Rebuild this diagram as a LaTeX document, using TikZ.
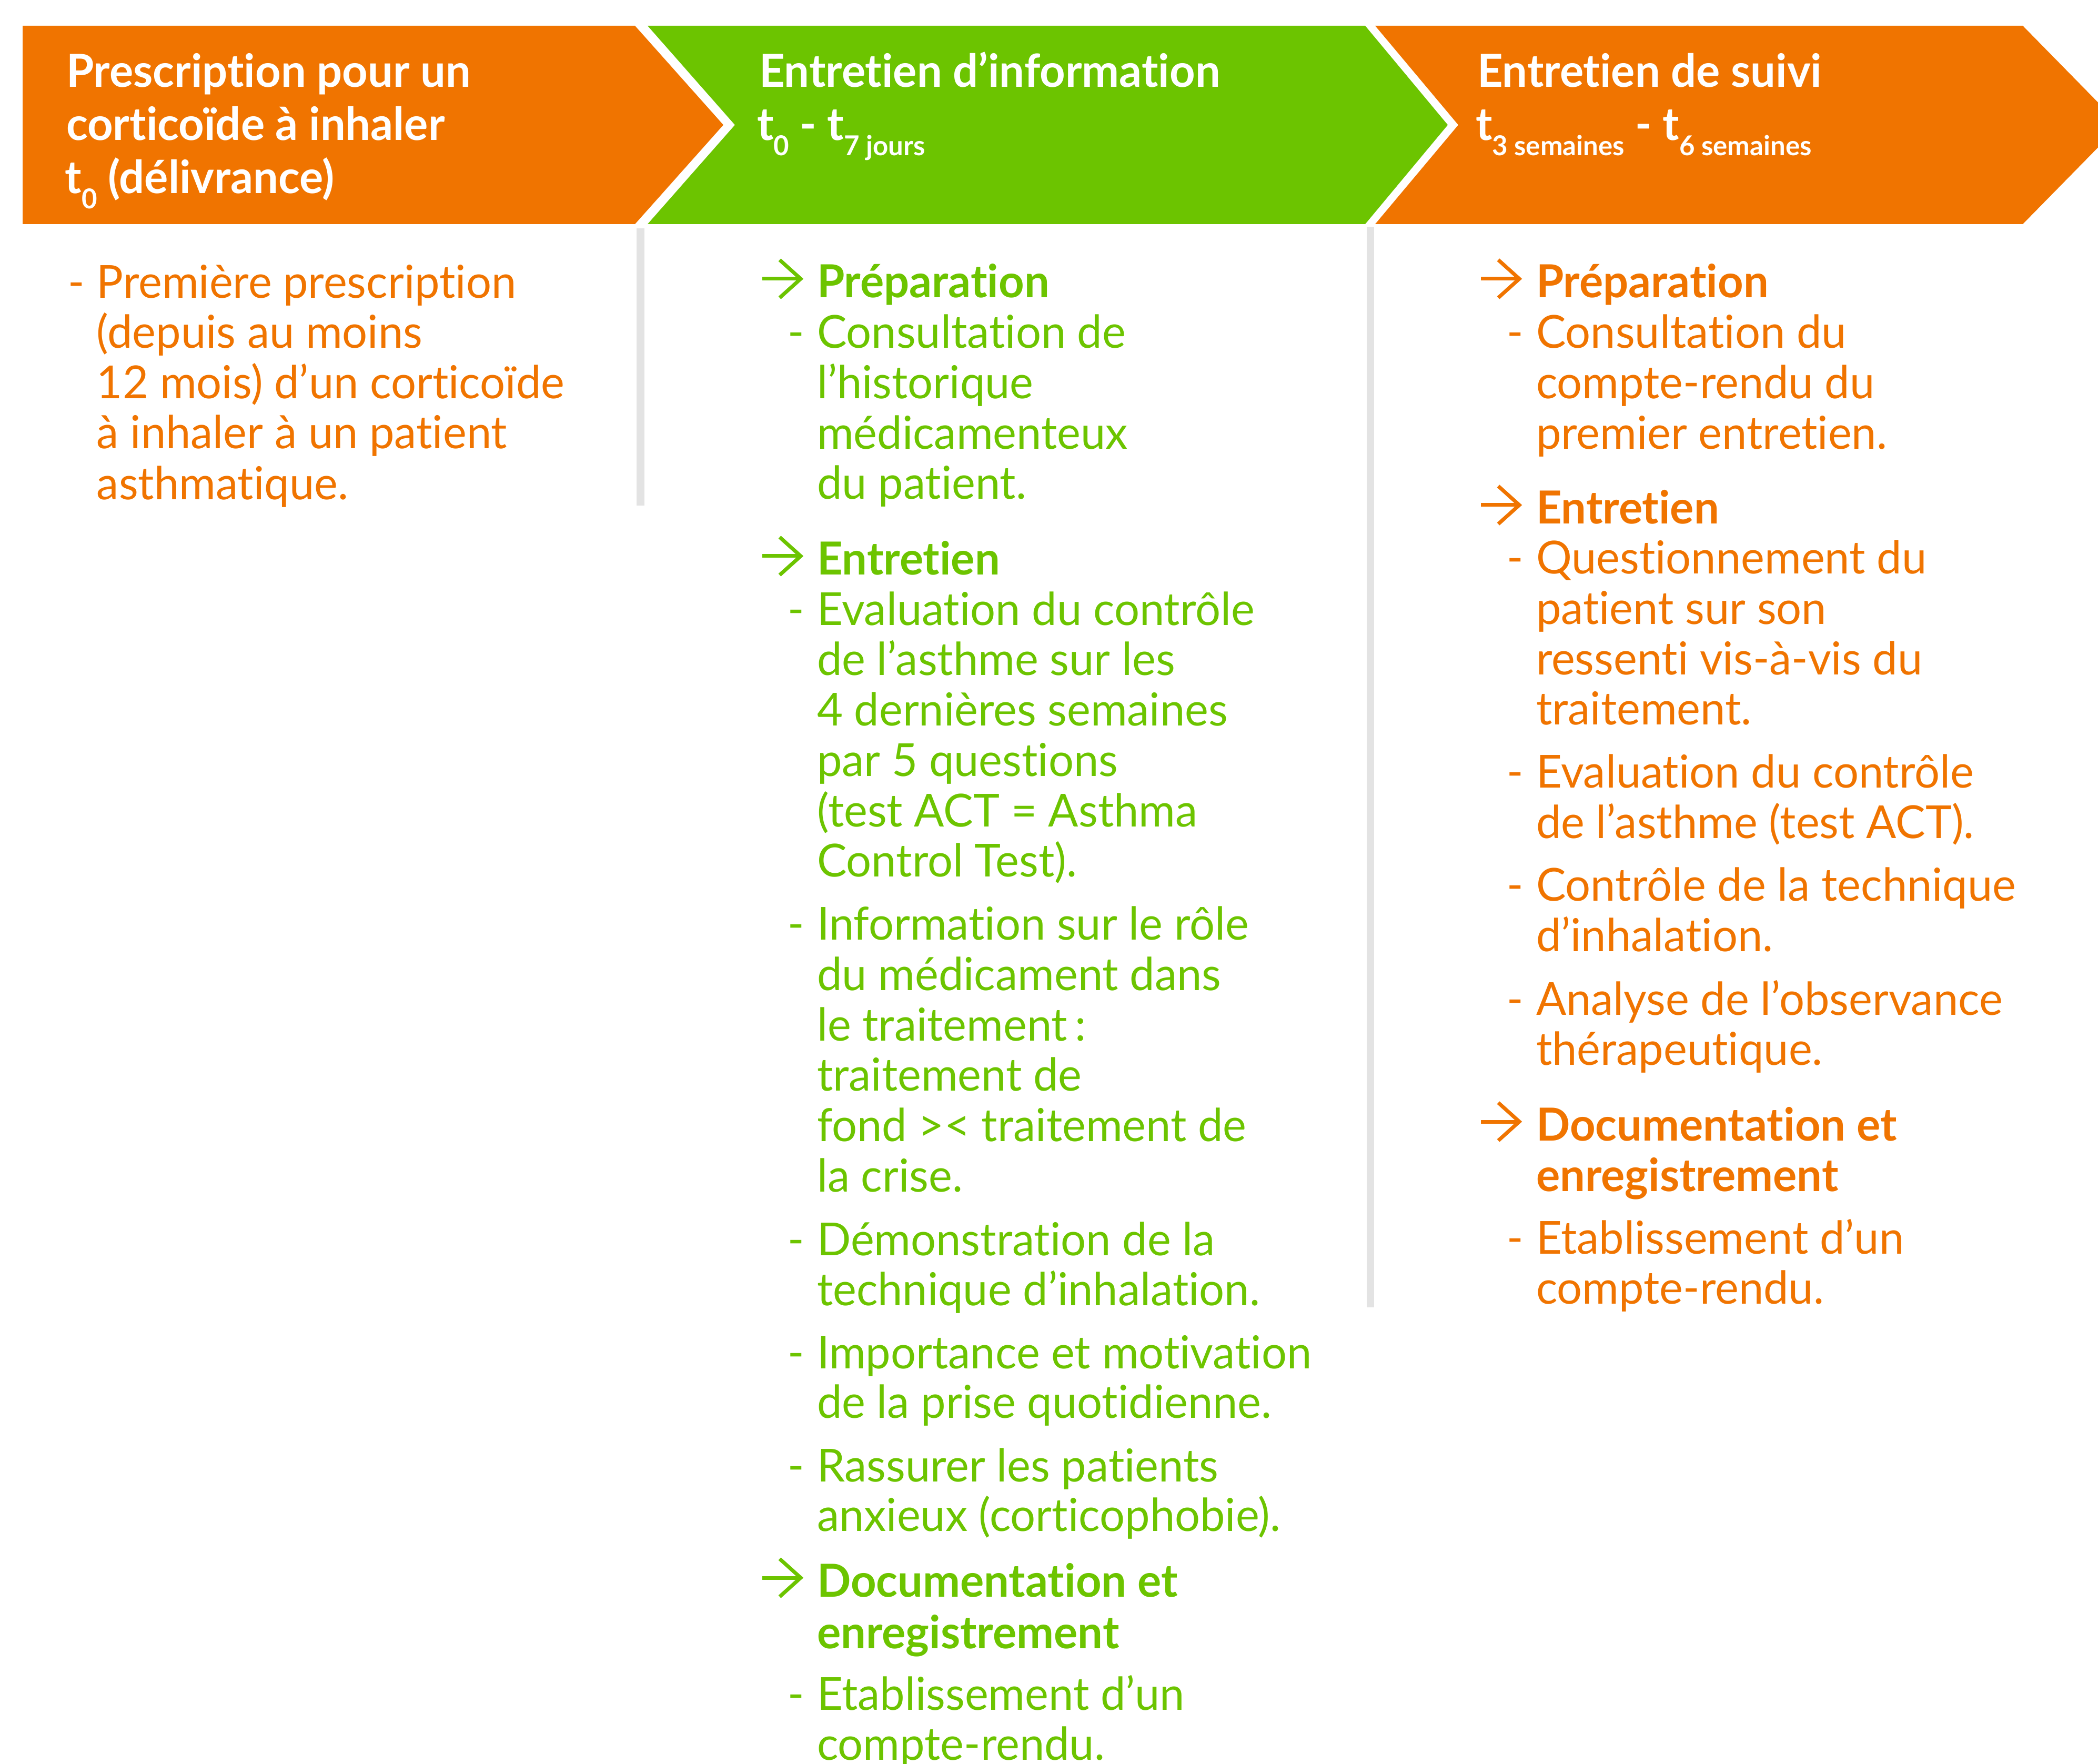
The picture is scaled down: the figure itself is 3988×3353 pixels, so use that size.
\documentclass[tikz,border=0pt]{standalone}
\usepackage{fontspec}
\setmainfont{Lato}[Ligatures=NoCommon, FakeStretch=0.98]
\definecolor{corange}{HTML}{F07400}
\definecolor{cgreen}{HTML}{6CC400}
\definecolor{cgray}{HTML}{E3E3E3}
\newcommand\bodyfont{\fontsize{17.3pt}{19pt}\selectfont}
\newcommand\subfont{\fontsize{10.4pt}{11pt}\selectfont}
\newcommand\tsub[1]{\raisebox{-5.8pt}{\subfont #1}}
\newcommand\harrow[4]{%
  \coordinate (#1-s) at (#2,#3-36);
  \coordinate (#1-t) at (#2+73,#3-36);
  \draw[arrowline,#4] (#1-s) -- (#1-t);
  \draw[arrowline,#4] (#2+33,#3-72) -- (#1-t) -- (#2+33,#3);}
\tikzset{
  txt/.style={anchor=base west, inner sep=0pt, font=\bodyfont},
  hdr/.style={txt, font=\bodyfont\bfseries, text=white},
  og/.style={txt, text=corange},
  gr/.style={txt, text=cgreen},
  ogb/.style={og, font=\bodyfont\bfseries},
  grb/.style={gr, font=\bodyfont\bfseries},
  arrowline/.style={line width=1.4pt, line join=miter, line cap=butt},
  sep/.style={fill=cgray, draw=none}
}
\begin{document}
\begin{tikzpicture}[x=0.2pt,y=-0.2pt]
\useasboundingbox (0,0) rectangle (3988,3353);
\clip (0,0) rectangle (3988,3353);
% header chevrons
\fill[corange] (43,49) -- (1207,49) -- (1375,237.5) -- (1207,426) -- (43,426) -- cycle;
\fill[cgreen] (1231,49) -- (2595,49) -- (2752,237.5) -- (2595,426) -- (1231,426) -- (1397,237.5) -- cycle;
\fill[corange] (2614,49) -- (3845,49) -- (4030,237.5) -- (3845,426) -- (2614,426) -- (2772,237.5) -- cycle;
% separators
\fill[sep] (1210,434) rectangle (1225,961);
\fill[sep] (2598,431) rectangle (2612,2485);
% header texts
\node[hdr] (h1a) at (125,166) {Prescription pour un};
\node[hdr] (h1b) at (125,267) {corticoïde à inhaler};
\node[hdr] (h1c) at (123,368) {t\tsub{0} (délivrance)};
\node[hdr] (h2a) at (1442,166) {Entretien d’information};
\node[hdr] (h2b) at (1438,267) {t\tsub{0} - t\tsub{7 jours}};
\node[hdr] (h3a) at (2807,166) {Entretien de suivi};
\node[hdr] (h3b) at (2804,267) {t\tsub{3 semaines} - t\tsub{6 semaines}};
% column 1
\node[og] (c1d1) at (128,567) {-};
\node[og] (c1l1) at (183,567) {Première prescription};
\node[og] (c1l2) at (183,662) {(depuis au moins};
\node[og] (c1l3) at (183,758) {12 mois) d’un corticoïde};
\node[og] (c1l4) at (183,853) {à inhaler à un patient};
\node[og] (c1l5) at (183,950) {asthmatique.};
% column 2
\harrow{c2a1}{1449}{566}{cgreen}
\node[grb] (c2h1) at (1552,566) {Préparation};
\node[gr] (c2d1) at (1496,662) {-};
\node[gr] (c2l1) at (1552,662) {Consultation de};
\node[gr] (c2l2) at (1552,758) {l’historique};
\node[gr] (c2l3) at (1552,854) {médicamenteux};
\node[gr] (c2l4) at (1552,949) {du patient.};
\harrow{c2a2}{1449}{1093}{cgreen}
\node[grb] (c2h2) at (1552,1093) {Entretien};
\node[gr] (c2d2) at (1496,1189) {-};
\node[gr] (c2l5) at (1552,1189) {Evaluation du contrôle};
\node[gr] (c2l6) at (1552,1284) {de l’asthme sur les};
\node[gr] (c2l7) at (1552,1380) {4 dernières semaines};
\node[gr] (c2l8) at (1552,1476) {par 5 questions};
\node[gr] (c2l9) at (1552,1572) {(test ACT = Asthma};
\node[gr] (c2l10) at (1552,1667) {Control Test).};
\node[gr] (c2d3) at (1496,1787) {-};
\node[gr] (c2l11) at (1552,1787) {Information sur le rôle};
\node[gr] (c2l12) at (1552,1882) {du médicament dans};
\node[gr] (c2l13) at (1552,1978) {le traitement\,:};
\node[gr] (c2l14) at (1552,2074) {traitement de};
\node[gr] (c2l15) at (1552,2169) {fond >< traitement de};
\node[gr] (c2l16) at (1552,2265) {la crise.};
\node[gr] (c2d4) at (1496,2386) {-};
\node[gr] (c2l17) at (1552,2386) {Démonstration de la};
\node[gr] (c2l18) at (1552,2481) {technique d’inhalation.};
\node[gr] (c2d5) at (1496,2601) {-};
\node[gr] (c2l19) at (1552,2601) {Importance et motivation};
\node[gr] (c2l20) at (1552,2695) {de la prise quotidienne.};
\node[gr] (c2d6) at (1496,2816) {-};
\node[gr] (c2l21) at (1552,2816) {Rassurer les patients};
\node[gr] (c2l22) at (1552,2910) {anxieux (corticophobie).};
\harrow{c2a3}{1449}{3035}{cgreen}
\node[grb] (c2h3) at (1552,3035) {Documentation et};
\node[grb] (c2h4) at (1552,3133) {enregistrement};
\node[gr] (c2d7) at (1496,3250) {-};
\node[gr] (c2l23) at (1552,3250) {Etablissement d’un};
\node[gr] (c2l24) at (1552,3345) {compte-rendu.};
% column 3
\harrow{c3a1}{2815}{566}{corange}
\node[ogb] (c3h1) at (2919,566) {Préparation};
\node[og] (c3d1) at (2863,662) {-};
\node[og] (c3l1) at (2919,662) {Consultation du};
\node[og] (c3l2) at (2919,758) {compte-rendu du};
\node[og] (c3l3) at (2919,854) {premier entretien.};
\harrow{c3a2}{2815}{996}{corange}
\node[ogb] (c3h2) at (2919,996) {Entretien};
\node[og] (c3d2) at (2863,1091) {-};
\node[og] (c3l4) at (2919,1091) {Questionnement du};
\node[og] (c3l5) at (2919,1187) {patient sur son};
\node[og] (c3l6) at (2919,1283) {ressenti vis-à-vis du};
\node[og] (c3l7) at (2919,1378) {traitement.};
\node[og] (c3d3) at (2863,1498) {-};
\node[og] (c3l8) at (2919,1498) {Evaluation du contrôle};
\node[og] (c3l9) at (2919,1594) {de l’asthme (test ACT).};
\node[og] (c3d4) at (2863,1713) {-};
\node[og] (c3l10) at (2919,1713) {Contrôle de la technique};
\node[og] (c3l11) at (2919,1809) {d’inhalation.};
\node[og] (c3d5) at (2863,1929) {-};
\node[og] (c3l12) at (2919,1929) {Analyse de l’observance};
\node[og] (c3l13) at (2919,2024) {thérapeutique.};
\harrow{c3a3}{2815}{2168}{corange}
\node[ogb] (c3h3) at (2919,2168) {Documentation et};
\node[ogb] (c3h4) at (2919,2264) {enregistrement};
\node[og] (c3d6) at (2863,2383) {-};
\node[og] (c3l14) at (2919,2383) {Etablissement d’un};
\node[og] (c3l15) at (2919,2478) {compte-rendu.};
\end{tikzpicture}
\end{document}
